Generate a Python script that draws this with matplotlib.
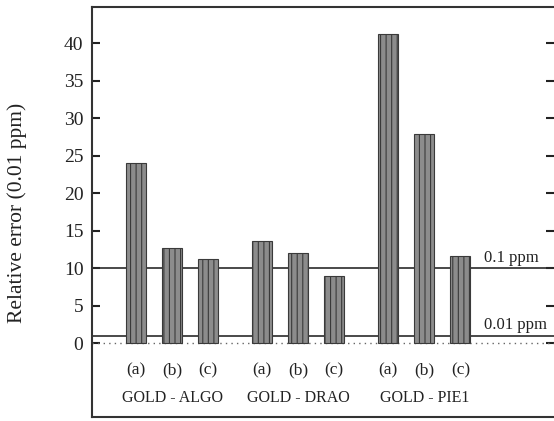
import matplotlib.pyplot as plt
import numpy as np

groups = ['GOLD - ALGO', 'GOLD - DRAO', 'GOLD - PIE1']
cases = ['(a)', '(b)', '(c)']
errors = [[24.0, 12.7, 11.3],
          [13.7, 12.1, 9.0],
          [41.3, 27.9, 11.7]]
ref_levels = [10, 1]
ref_labels = ['0.1 ppm', '0.01 ppm']

plt.rcParams['font.family'] = 'Liberation Serif'

fig = plt.figure(figsize=(5.54, 4.21), dpi=100)
ax = fig.add_axes([91.7/554, 1-417/421, (554-91.7)/554, (417-6.7)/421])

xpos = []
for g in range(len(groups)):
    for c in range(len(cases)):
        xpos.append(g*3.5 + c)
xpos = np.array(xpos)
vals = np.array(errors).ravel()

plt.rcParams['hatch.linewidth'] = 0.8
ax.bar(xpos, vals, width=0.55, color='#8c8c8c', edgecolor='#3a3a3a',
       hatch='|||', linewidth=0.8, zorder=3)

for lev, lab in zip(ref_levels, ref_labels):
    ax.axhline(lev, color='#2a2a2a', lw=1.2, zorder=2)
    ax.text(9.65, lev + 0.35, lab, fontsize=12, ha='left', va='bottom', color='#222')
ax.axhline(0, color='#666', lw=1, ls=(0, (1, 3)), zorder=2)

for x, c in zip(xpos, cases*3):
    ax.text(x, -3.6, c, fontsize=12.5, ha='center', va='center', color='#222')
for g, name in enumerate(groups):
    ax.text(g*3.5 + 1, -7.3, name, fontsize=11.5, ha='center', va='center', color='#222')

ax.set_xlim(-1.23, 11.6)
ax.set_ylim(-9.8, 44.9)
ax.set_xticks([])
ax.set_yticks(np.arange(0, 41, 5))
ax.tick_params(axis='y', direction='in', length=6, width=1.5, labelsize=14,
               right=True, pad=6, colors='#222')
for s in ['left', 'top', 'bottom']:
    ax.spines[s].set_linewidth(1.5)
    ax.spines[s].set_color('#333')
ax.spines['right'].set_visible(False)

fig.text(17/554, 1-213/421, 'Relative error (0.01 ppm)', rotation=90,
         fontsize=15.5, ha='center', va='center', color='#222')

fig.savefig('out.png', dpi=100)
